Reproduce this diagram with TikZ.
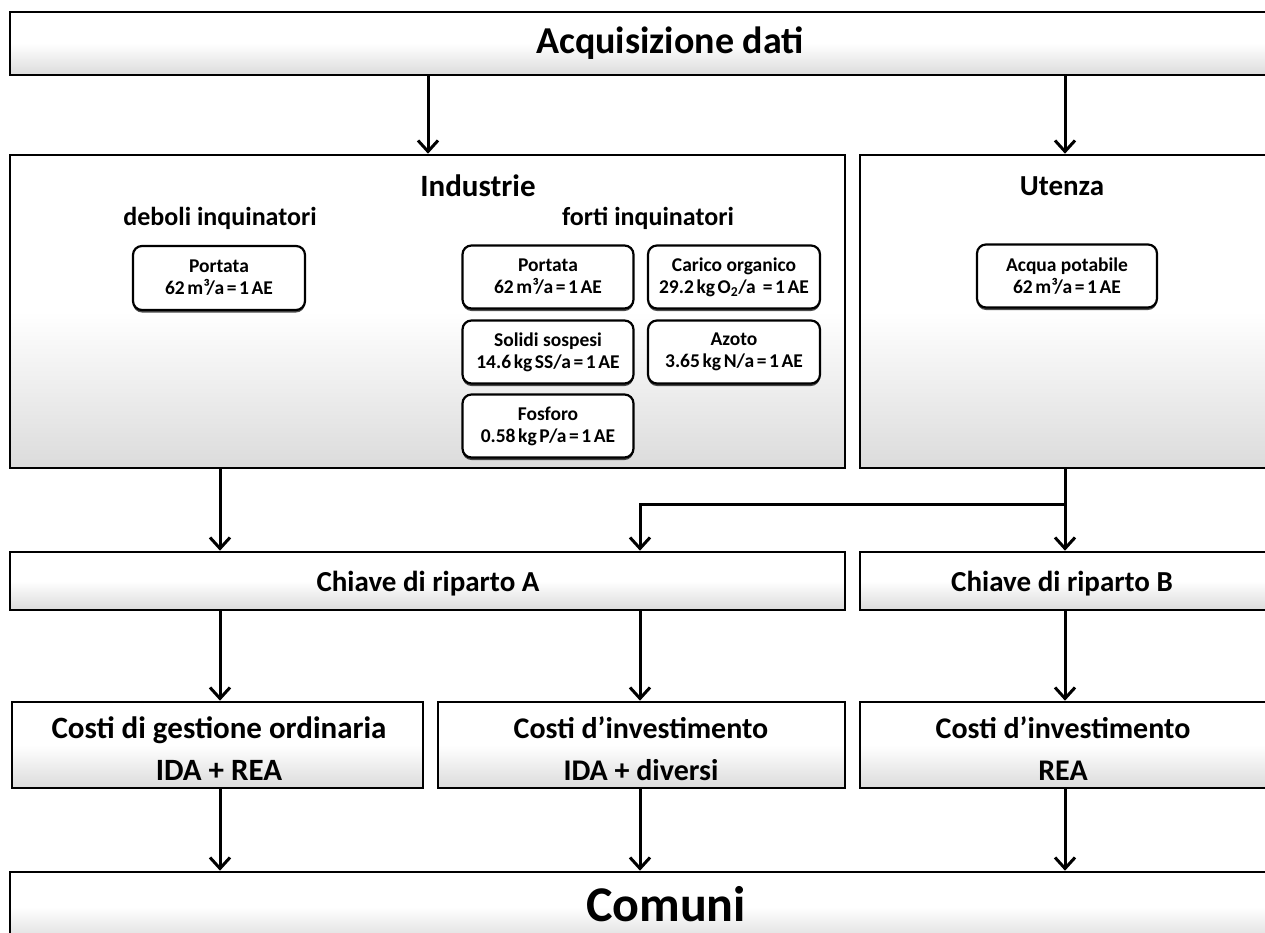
\documentclass[tikz,border=0pt]{standalone}
\usepackage{fontspec}
\setmainfont{Carlito}
\usetikzlibrary{arrows.meta,shadows,calc}
\newcommand{\gapsp}{\kern2.6pt}
\begin{document}
\begin{tikzpicture}[x=1pt,y=-1pt,
  bigbox/.style={draw=black, line width=2.6pt, top color=white, bottom color=black!14, middle color=white, shading angle=0, inner sep=0pt},
  smallbox/.style={draw=black, line width=2.2pt, rounded corners=9pt, fill=white, inner sep=0pt,
     drop shadow={shadow xshift=0pt, shadow yshift=-2.5pt, opacity=0.7, fill=black}, align=center, font=\bfseries\fontsize{19.5}{22}\selectfont},
  arr/.style={line width=3pt, -{Straight Barb[length=11pt,width=20pt,line width=3pt]}},
  title/.style={font=\bfseries\fontsize{29}{42}\selectfont, inner sep=0pt},
  sub/.style={font=\bfseries\fontsize{26}{30}\selectfont, inner sep=0pt},
]
\useasboundingbox (0,0) rectangle (1265,932);
\clip (0,0) rectangle (1265,932);
\fill[white] (0,0) rectangle (1265,932);

% boxes
\node[bigbox, minimum width=1270pt, minimum height=63pt] (acq) at (645,43.5) {};
\node[font=\bfseries\fontsize{38}{44}\selectfont, inner sep=0pt] at (670,43) {Acquisizione dati};

\node[bigbox, minimum width=835pt, minimum height=313pt] (ind) at (427.5,311.5) {};
\node[bigbox, minimum width=420pt, minimum height=313pt] (ute) at (1070,311.5) {};
\node[font=\bfseries\fontsize{31}{36}\selectfont, inner sep=0pt] (indt) at (478,186) {Industrie};
\node[sub] (deb) at (220,218) {deboli inquinatori};
\node[sub] (fort) at (648,218) {forti inquinatori};
\node[font=\bfseries\fontsize{29}{36}\selectfont, inner sep=0pt] (utet) at (1062,186) {Utenza};

\node[smallbox, minimum width=172pt, minimum height=64pt] (p1) at (219,278) {Portata\\62\gapsp m³/a\gapsp=\gapsp1\gapsp AE};
\node[smallbox, minimum width=171pt, minimum height=63pt] (p2) at (548,277) {Portata\\62\gapsp m³/a\gapsp=\gapsp1\gapsp AE};
\node[smallbox, minimum width=172pt, minimum height=63pt] (co) at (734,277) {Carico organico\\29.2\gapsp kg\gapsp O\textsubscript{2}/a \gapsp=\gapsp1\gapsp AE};
\node[smallbox, minimum width=171pt, minimum height=63pt] (ss) at (548,352) {Solidi sospesi\\14.6\gapsp kg\gapsp SS/a\gapsp=\gapsp1\gapsp AE};
\node[smallbox, minimum width=172pt, minimum height=63pt] (az) at (734,352) {Azoto\\3.65\gapsp kg\gapsp N/a\gapsp=\gapsp1\gapsp AE};
\node[smallbox, minimum width=171pt, minimum height=63pt] (fo) at (548,426) {Fosforo\\0.58\gapsp kg\gapsp P/a\gapsp=\gapsp1\gapsp AE};
\node[smallbox, minimum width=180pt, minimum height=63pt] (ap) at (1067,276) {Acqua potabile\\62\gapsp m³/a\gapsp=\gapsp1\gapsp AE};

\node[bigbox, minimum width=835pt, minimum height=58pt] (ca) at (427.5,581) {};
\node[bigbox, minimum width=420pt, minimum height=58pt] (cb) at (1070,581) {};
\node[title] at (428,584) {Chiave di riparto A};
\node[title] at (1062,584) {Chiave di riparto B};

\node[bigbox, minimum width=411pt, minimum height=86pt] (c1) at (217.5,745) {};
\node[bigbox, minimum width=407pt, minimum height=86pt] (c2) at (641.5,745) {};
\node[bigbox, minimum width=420pt, minimum height=86pt] (c3) at (1070,745) {};
\node[font=\bfseries\fontsize{31}{42}\selectfont, inner sep=0pt, align=center] at (219,749) {Costi di gestione ordinaria\\IDA + REA};
\node[font=\bfseries\fontsize{30}{42}\selectfont, inner sep=0pt, align=center] at (641,749) {Costi d’investimento\\IDA + diversi};
\node[font=\bfseries\fontsize{30}{42}\selectfont, inner sep=0pt, align=center] at (1063,749) {Costi d’investimento\\REA};

\node[bigbox, minimum width=1270pt, minimum height=70pt] (com) at (645,907) {};
\node[font=\bfseries\fontsize{50}{56}\selectfont, inner sep=0pt] at (666,904) {Comuni};

% connectors
\coordinate (xa) at (428,0);
\coordinate (xb) at (1065,0);
\coordinate (xl) at (220,0);
\coordinate (xm) at (640,0);
\coordinate (yb) at (0,504);
\draw[arr] (acq.south -| xa) -- (ind.north -| xa);
\draw[arr] (acq.south -| xb) -- (ute.north -| xb);
\draw[arr] (ind.south -| xl) -- (ca.north -| xl);
\draw[arr] (ute.south -| xb) -- (cb.north -| xb);
\draw[arr] (xb |- yb) -- (xm |- yb) -- (ca.north -| xm);
\draw[arr] (ca.south -| xl) -- (c1.north -| xl);
\draw[arr] (ca.south -| xm) -- (c2.north -| xm);
\draw[arr] (cb.south -| xb) -- (c3.north -| xb);
\draw[arr] (c1.south -| xl) -- (com.north -| xl);
\draw[arr] (c2.south -| xm) -- (com.north -| xm);
\draw[arr] (c3.south -| xb) -- (com.north -| xb);
\end{tikzpicture}
\end{document}
